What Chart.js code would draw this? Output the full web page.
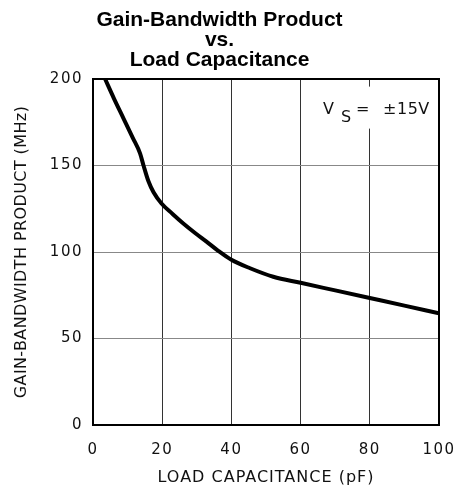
<!DOCTYPE html>
<html>
<head>
<meta charset="utf-8">
<script src="https://cdn.jsdelivr.net/npm/chart.js@4/dist/chart.umd.min.js"></script>
<style>
  html, body { margin: 0; padding: 0; background: #fff; }
  #wrap { width: 456px; height: 498px; }
</style>
</head>
<body>
<div id="wrap"><canvas id="grafGbw" width="456" height="498"></canvas></div>
<script>
// load capacitance (pF) and gain-bandwidth product (MHz)
const loadCap = [3.5, 6, 8.8, 11.5, 13.6, 14.6, 16, 17.5, 19.8, 23, 26.1, 29.5, 32.8, 36, 40, 45.4, 52.1, 60, 70, 80, 90, 100];
const gbwMHz  = [200, 189, 177.3, 166, 157, 150, 141, 134.5, 128, 122, 116.5, 111, 106, 101, 95.5, 90.6, 85.7, 82.2, 77.8, 73.4, 69, 64.5];

const xTicks = [0, 20, 40, 60, 80, 100];
const yTicks = [0, 50, 100, 150, 200];

const titleLines = ['Gain-Bandwidth Product', 'vs.', 'Load Capacitance'];
const xTitle = 'LOAD CAPACITANCE (pF)';
const yTitle = 'GAIN-BANDWIDTH PRODUCT (MHz)';
const noteAt = {x: 66.5, y: 180};

const techFont = '"DejaVu Sans", sans-serif';

// spaced-out lettering for the axis text
const spacedText = {
    id: 'spacedText',
    beforeDraw(chart) {
        Object.values(chart.scales).forEach(s => {
            if (s._spaced) return;
            s._spaced = true;
            ['drawLabels', 'drawTitle'].forEach(fn => {
                const orig = s[fn];
                s[fn] = function (...args) {
                    const ctx = this.ctx;
                    ctx.save();
                    if (fn === 'drawLabels') ctx.letterSpacing = '1.5px';
                    else ctx.letterSpacing = this.axis === 'x' ? '1px' : '0.4px';
                    orig.apply(this, args);
                    ctx.restore();
                };
            });
        });
    }
};

// box outline + supply voltage note
const frameAndNote = {
    id: 'frameAndNote',
    afterDatasetsDraw(chart) {
        const {ctx, chartArea: a, scales} = chart;
        ctx.save();
        ctx.strokeStyle = '#000';
        ctx.lineWidth = 2;
        ctx.strokeRect(a.left, a.top, a.right - a.left, a.bottom - a.top);

        const px = scales.x.getPixelForValue(noteAt.x);
        const py = scales.y.getPixelForValue(noteAt.y);
        ctx.fillStyle = '#fff';
        ctx.fillRect(px - 5, py - 27, 114, 42);
        ctx.fillStyle = '#111';
        ctx.font = '16px ' + techFont;
        ctx.textBaseline = 'alphabetic';
        ctx.textAlign = 'left';
        ctx.fillText('V', px, py);
        ctx.fillText('S', px + 18, py + 8);
        ctx.fillText('=', px + 33, py);
        ctx.letterSpacing = '0.5px';
        ctx.fillText('\u00b115V', px + 60, py);
        ctx.restore();
    }
};

new Chart(document.getElementById('grafGbw'), {
    type: 'line',
    data: {
        datasets: [{
            label: 'GBW',
            data: loadCap.map((c, i) => ({x: c, y: gbwMHz[i]})),
            borderColor: '#000',
            backgroundColor: '#000',
            borderWidth: 4,
            pointRadius: 0,
            tension: 0.4,
            cubicInterpolationMode: 'monotone',
            fill: false,
        }]
    },
    options: {
        responsive: false,
        animation: false,
        layout: {padding: {left: 0, right: 17, top: 0, bottom: 0}},
        plugins: {
            legend: {display: false},
            tooltip: {enabled: false},
            title: {
                display: true,
                text: titleLines,
                color: '#000',
                font: {family: '"Liberation Sans", Arial, sans-serif', size: 21, weight: 'bold', lineHeight: '20px'},
                padding: {top: 10, bottom: 9},
            },
        },
        scales: {
            x: {
                type: 'linear',
                min: 0,
                max: 100,
                afterFit: s => { s.height = 73; s.paddingLeft = 0; s.paddingRight = 0; },
                afterBuildTicks: s => { s.ticks = xTicks.map(v => ({value: v})); },
                grid: {color: '#333', lineWidth: 1, drawTicks: false},
                border: {display: true, color: '#000', width: 2},
                ticks: {color: '#111', padding: 16, maxRotation: 0, font: {family: techFont, size: 15}},
                title: {display: true, text: xTitle, color: '#111', padding: {top: 0, bottom: 11}, font: {family: techFont, size: 16}},
            },
            y: {
                min: 0,
                max: 200,
                afterFit: s => { s.width = 93; s.paddingTop = 0; s.paddingBottom = 0; },
                afterBuildTicks: s => { s.ticks = yTicks.map(v => ({value: v})); },
                grid: {color: '#888', lineWidth: 1, drawTicks: false},
                border: {display: true, color: '#000', width: 2},
                ticks: {color: '#111', padding: 10, font: {family: techFont, size: 15}},
                title: {display: true, text: yTitle, color: '#111', padding: {top: 12, bottom: 0}, font: {family: techFont, size: 16}},
            },
        },
    },
    plugins: [spacedText, frameAndNote],
});
</script>
</body>
</html>
